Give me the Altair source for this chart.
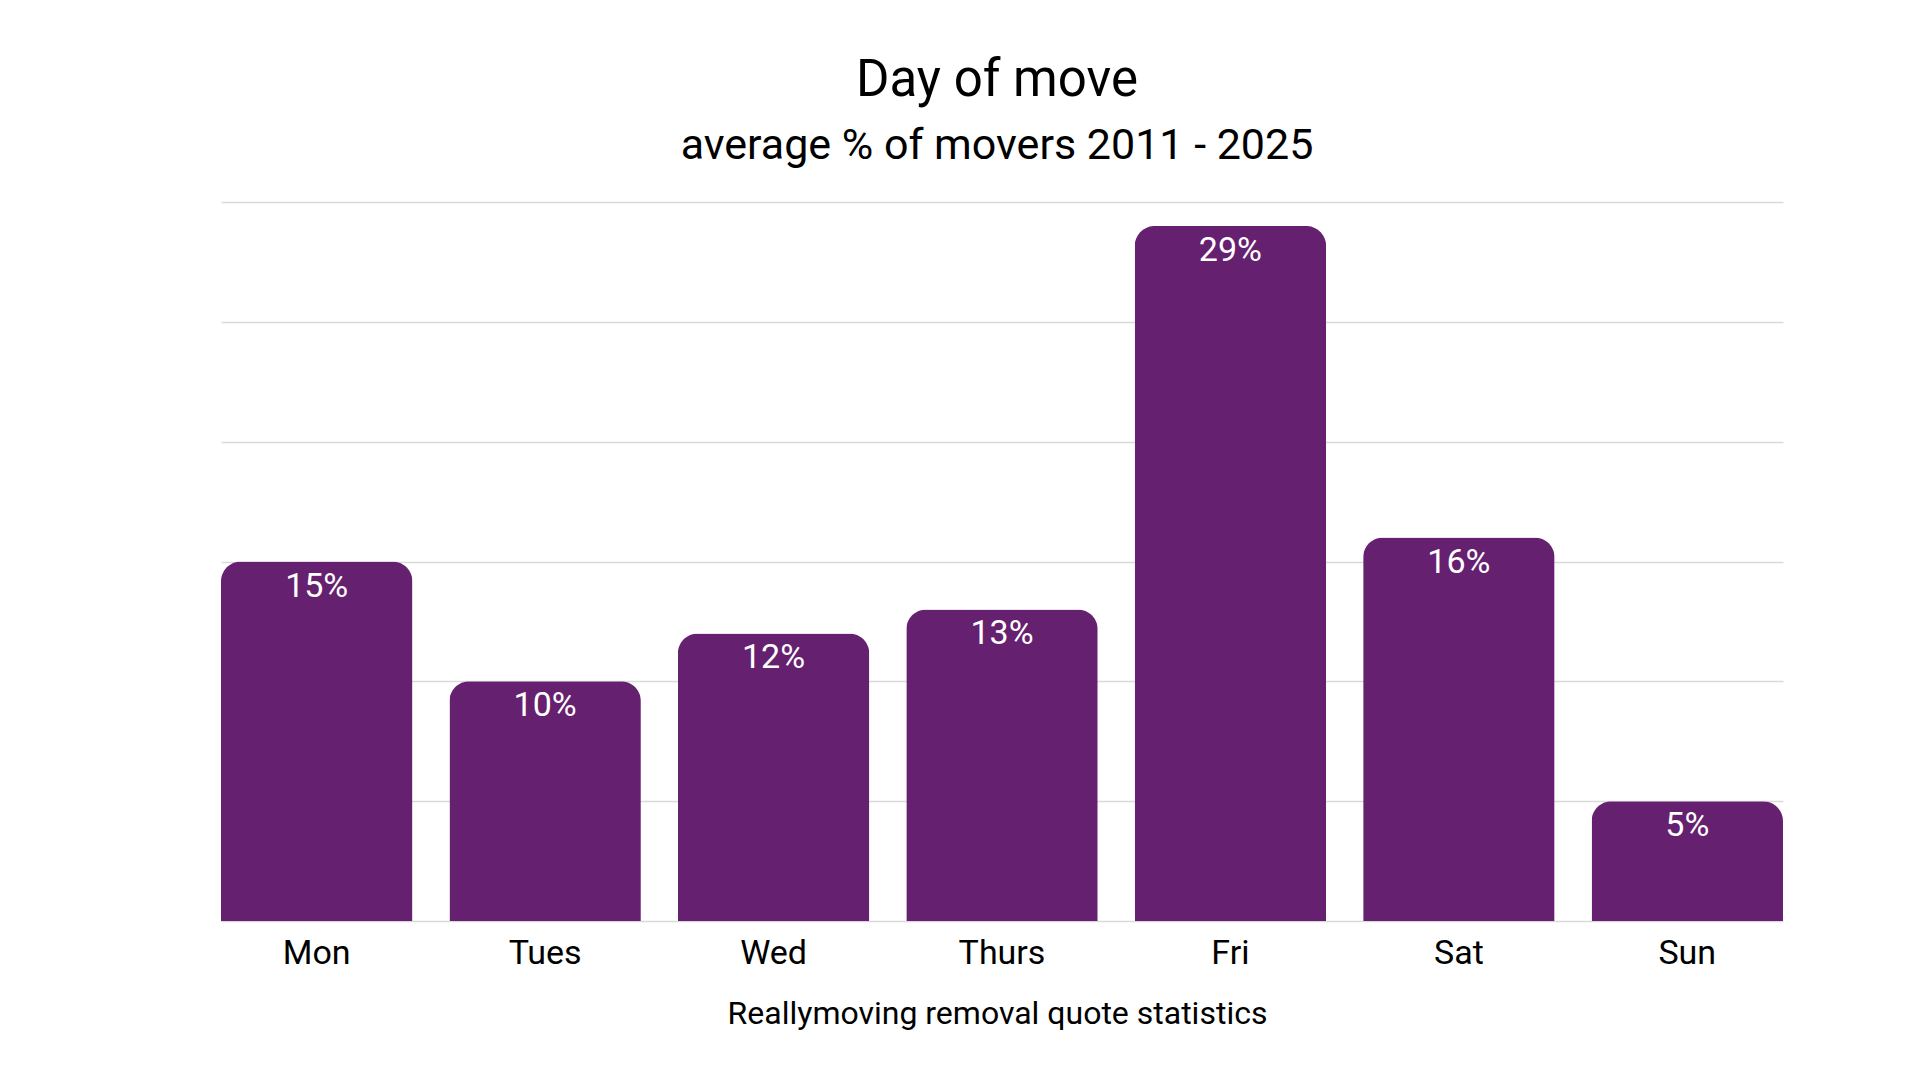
import pandas as pd
import altair as alt

days = ['Mon', 'Tues', 'Wed', 'Thurs', 'Fri', 'Sat', 'Sun']
share = [15, 10, 12, 13, 29, 16, 5]

BAR_COLOR = '#652070'
FONT = 'Roboto'

df = pd.DataFrame({'Day': days, 'Share': share})
df['Label'] = df['Share'].astype(str) + '%'

x_enc = alt.X('Day:N', sort=days,
              scale=alt.Scale(paddingInner=0.162, paddingOuter=0),
              axis=alt.Axis(title='Reallymoving removal quote statistics',
                            labelAngle=0, labelFontSize=34, labelColor='#000000',
                            labelFont=FONT, labelPadding=15, ticks=False, domain=False,
                            titleFontSize=32, titleFont=FONT, titleFontWeight='normal',
                            titleColor='#000000', titlePadding=28, titleX=776))
y_enc = alt.Y('Share:Q', scale=alt.Scale(domain=[0, 30]),
              axis=alt.Axis(title=None, labels=False, ticks=False, domain=False,
                            values=[0, 5, 10, 15, 20, 25, 30],
                            gridColor='#d9d9d9', gridWidth=1.3))

bars = alt.Chart(df).mark_bar(color=BAR_COLOR, cornerRadiusTopLeft=20,
                              cornerRadiusTopRight=20).encode(x=x_enc, y=y_enc)

labels = alt.Chart(df).mark_text(color='white', fontSize=34, font=FONT,
                                 baseline='alphabetic', dy=35).encode(
    x=alt.X('Day:N', sort=days),
    y='Share:Q',
    text='Label:N'
)

chart = (bars + labels).properties(
    width=1562,
    height=719,
    title=alt.TitleParams(
        text='Day of move',
        subtitle='average % of movers 2011 - 2025',
        font=FONT, fontSize=51, fontWeight='normal', color='#000000',
        subtitleFont=FONT, subtitleFontSize=43, subtitleColor='#000000',
        subtitlePadding=18, offset=33, anchor='middle', dx=-5
    ),
    autosize=alt.AutoSizeParams(type='none'),
    padding={'left': 213, 'top': 194, 'right': 120, 'bottom': 140}
).configure_view(stroke=None)

chart.save("out.html", embed_options={"renderer": "svg", "actions": False})
